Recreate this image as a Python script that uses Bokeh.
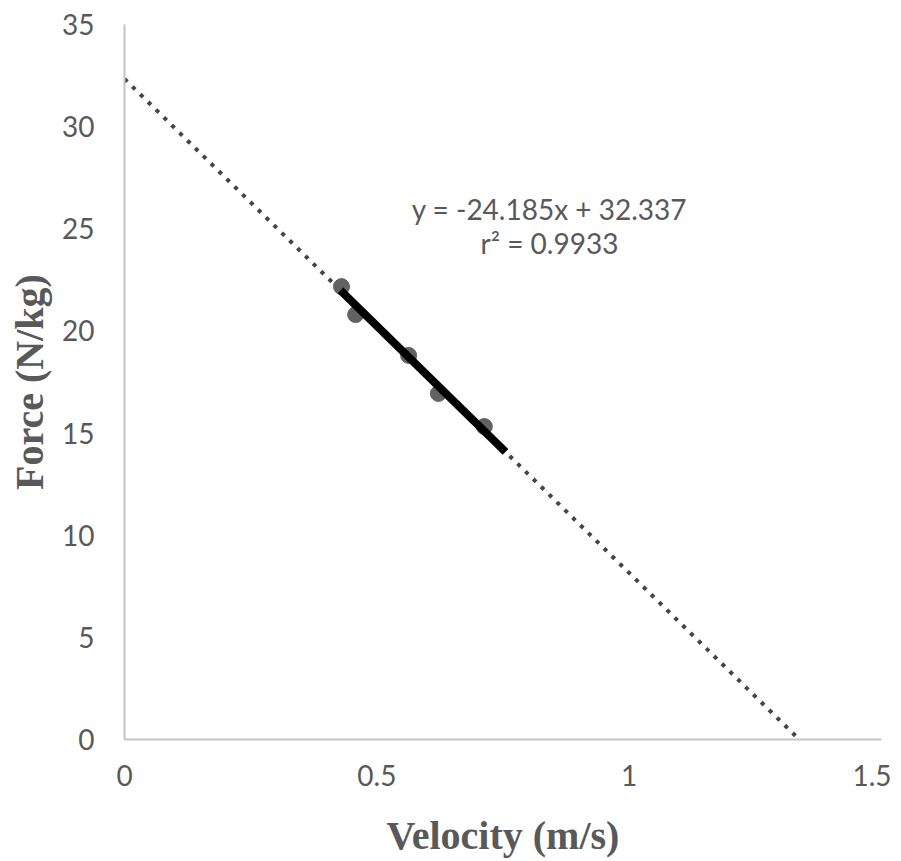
from bokeh.plotting import figure
from bokeh.models import FixedTicker, Label, Range1d
from bokeh.embed import file_html
from bokeh.resources import INLINE

# Data
velocity = [0.430, 0.458, 0.563, 0.622, 0.713]
force = [22.17, 20.80, 18.80, 16.94, 15.32]

slope = -24.185
intercept = 32.337
r2 = 0.9933

fit_span = [0.428, 0.755]           # solid fitted segment (x range)
trend_span = [0.0, -intercept / slope]  # dotted trend line to x-intercept

x_ticks = [0, 0.5, 1, 1.5]
x_tick_labels = ["0", "0.5", "1", "1.5"]
y_ticks = [0, 5, 10, 15, 20, 25, 30, 35]

gray_text = "#595959"

p = figure(
    frame_width=757, frame_height=715,
    min_border_left=124, min_border_top=24, min_border_right=10, min_border_bottom=110,
    x_range=Range1d(0, 1.5), y_range=Range1d(0, 35),
    output_backend="svg", toolbar_location=None,
    background_fill_color="white", border_fill_color="white",
)
p.outline_line_color = None
p.xgrid.visible = False
p.ygrid.visible = False

for ax in (p.xaxis, p.yaxis):
    ax.axis_line_color = "#c4c4c4"
    ax.axis_line_width = 2
    ax.major_tick_out = 0
    ax.major_tick_in = 0
    ax.minor_tick_line_color = None
    ax.major_label_text_font = "Lato"
    ax.major_label_text_font_size = "28px"
    ax.major_label_text_color = gray_text
    ax.axis_label_text_font = "Liberation Serif"
    ax.axis_label_text_font_style = "bold"
    ax.axis_label_text_font_size = "40px"
    ax.axis_label_text_color = gray_text

p.xaxis.ticker = FixedTicker(ticks=x_ticks)
p.xaxis.major_label_overrides = {t: l for t, l in zip(x_ticks, x_tick_labels)}
p.yaxis.ticker = FixedTicker(ticks=y_ticks)
p.xaxis.axis_label = "Velocity (m/s)"
p.yaxis.axis_label = "Force (N/kg)"
p.xaxis.major_label_standoff = 25
p.yaxis.major_label_standoff = 30
p.xaxis.axis_label_standoff = 24
p.yaxis.axis_label_standoff = 7

# dotted trend line
tx = trend_span
ty = [slope * x + intercept for x in tx]
p.line(tx, ty, line_color="#454545", line_width=4, line_dash="4 7")

# data points
p.scatter(velocity, force, size=16, fill_color="#626262", line_color="#626262")

# solid fitted segment
fx = fit_span
fy = [slope * x + intercept for x in fx]
p.line(fx, fy, line_color="black", line_width=8)

p.add_layout(Label(x=0.842, y=25.99, text=f"y = {slope}x + {intercept}",
                   text_align="center", text_baseline="middle",
                   text_font="Lato", text_font_size="28px", text_color=gray_text))
p.add_layout(Label(x=0.842, y=24.28, text=f"r² = {r2}",
                   text_align="center", text_baseline="middle",
                   text_font="Lato", text_font_size="28px", text_color=gray_text))

open("out.html", "w").write(file_html(p, INLINE))
